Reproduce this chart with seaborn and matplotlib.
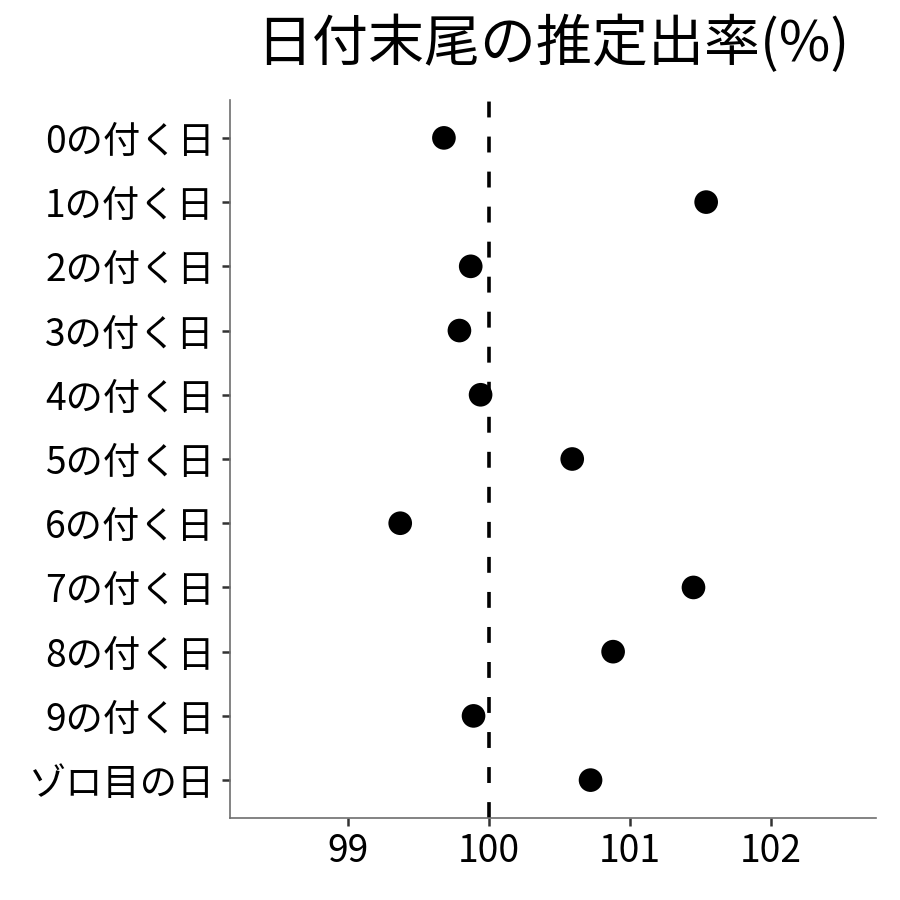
import matplotlib
matplotlib.use("Agg")
import matplotlib.pyplot as plt
import seaborn as sns
import pandas as pd

categories = ["0の付く日", "1の付く日", "2の付く日", "3の付く日", "4の付く日",
              "5の付く日", "6の付く日", "7の付く日", "8の付く日", "9の付く日", "ゾロ目の日"]
rates = [99.68, 101.54, 99.87, 99.79, 99.94, 100.59, 99.37, 101.45, 100.88, 99.89, 100.72]
x_ticks = [99, 100, 101, 102]
reference_rate = 100
title = "日付末尾の推定出率(%)"

sns.set_theme(style="white")
plt.rcParams['font.family'] = ['Noto Sans CJK JP', 'DejaVu Sans']

df = pd.DataFrame({"category": categories, "rate": rates})

fig = plt.figure(figsize=(9, 9), dpi=100)
ax = fig.add_axes([0.2556, 0.0911, 0.7178, 0.7978])

ax.axvline(reference_rate, color="black", linewidth=2.6, linestyle=(0, (4.4, 5.3)), zorder=1)
sns.scatterplot(data=df, x="rate", y="category", ax=ax, color="black", s=290,
                edgecolor="none", zorder=3, legend=False)

ax.set_xlim(98.163, 102.745)
ax.set_ylim(len(categories) - 1 + 0.59, -0.59)
ax.set_xticks(x_ticks)
ax.set_xticklabels([str(t) for t in x_ticks])
ax.set_yticks(range(len(categories)))
ax.set_yticklabels(categories)
ax.set_xlabel("")
ax.set_ylabel("")

for side in ["top", "right"]:
    ax.spines[side].set_visible(False)
for side in ["left", "bottom"]:
    ax.spines[side].set_color("#6e6e6e")
    ax.spines[side].set_linewidth(1.2)

ax.tick_params(axis="both", which="major", length=6, width=1.8, color="#333333",
               labelsize=26.8, labelcolor="black", direction="out")
ax.tick_params(axis="y", left=True, pad=5)
ax.tick_params(axis="x", bottom=True, pad=4)
ax.grid(False)

fig.text(0.6144, 1 - 45 / 900, title, ha="center", va="center", fontsize=40.3, color="black")

fig.savefig("out.png", dpi=100, facecolor="white")
